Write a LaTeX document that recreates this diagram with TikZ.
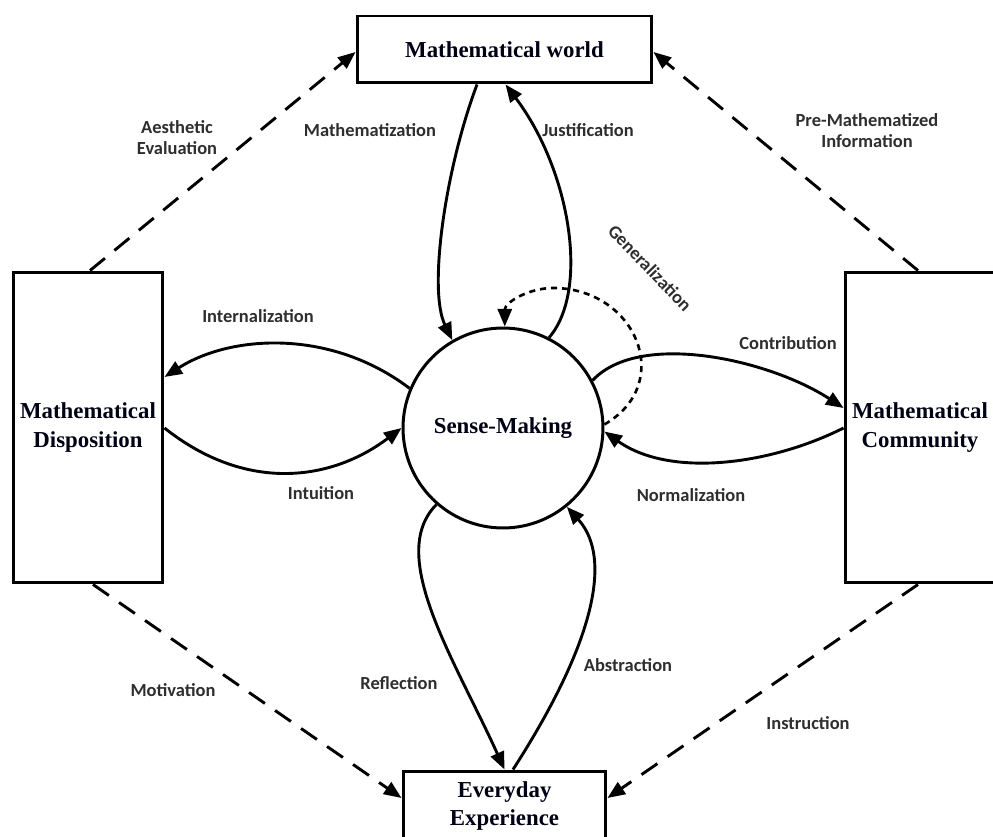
\documentclass[tikz,border=0pt]{standalone}
\usepackage{fontspec}
\setmainfont{Liberation Serif}
\newfontfamily\lblfont{Carlito}
\usetikzlibrary{arrows.meta,calc}
\begin{document}
\begin{tikzpicture}[x=0.02cm,y=-0.02cm,
  box/.style={draw=black,line width=1.7pt,fill=white,inner sep=0pt,
    font=\fontsize{13}{16.5}\selectfont\bfseries,align=center,text=black!92!blue},
  flow/.style={line width=1.65pt,-{Triangle[length=10pt,width=8pt]}},
  link/.style={line width=1.65pt,dash pattern=on 11pt off 7pt,-{Triangle[length=10pt,width=8pt]}},
  gen/.style={line width=1.5pt,dash pattern=on 3.5pt off 2.8pt,-{Triangle[length=10pt,width=8pt]}},
  lbl/.style={font=\lblfont\bfseries\fontsize{10.5}{12}\selectfont,text=black!82,align=center}
]
\clip (0,0) rectangle (993,837);
\fill[white] (0,0) rectangle (993,837);

% main nodes
\node[box,minimum width=5.9cm,minimum height=1.34cm] (mw) at (504.5,49.5) {Mathematical world};
\node[box,minimum width=3cm,minimum height=6.22cm] (ld) at (88,427.5) {Mathematical\\Disposition};
\node[box,minimum width=3cm,minimum height=6.22cm] (rc) at (920,427.5) {Mathematical\\Community};
\node[box,minimum width=4.06cm,minimum height=1.4cm] (eb) at (504.5,806) {Everyday\\Experience};
\node[box,circle,minimum size=4cm] (sm) at (503,428) {Sense-Making};

% connector end points on the boxes
\coordinate (ma) at ($(mw.south)+(-27.5,0)$);
\coordinate (ja) at ($(mw.south)+(1,0)$);
\coordinate (ia) at ($(ld.east)+(0,-50.5)$);
\coordinate (ua) at ($(ld.east)+(0,0.5)$);
\coordinate (ca) at ($(rc.west)+(0,-19.5)$);
\coordinate (na) at ($(rc.west)+(0,0.5)$);
\coordinate (ra) at (eb.north);
\coordinate (aa) at ($(eb.north)+(8.5,0)$);
\coordinate (ae1) at ($(ld.north)+(2,0)$);
\coordinate (ae2) at ($(mw.west)+(0,2.5)$);
\coordinate (pm1) at ($(rc.north)+(-2,0)$);
\coordinate (pm2) at ($(mw.east)+(0,2.5)$);
\coordinate (mo1) at ($(ld.south)+(5,0)$);
\coordinate (mo2) at ($(eb.west)+(0,-8)$);
\coordinate (is1) at ($(rc.south)+(-2,0)$);
\coordinate (is2) at ($(eb.east)+(0,-8)$);
\coordinate (gtop) at (553,288);

% dashed links between the outer boxes
\draw[link] (ae1) -- (ae2);
\draw[link] (pm1) -- (pm2);
\draw[link] (mo1) -- (mo2);
\draw[link] (is1) -- (is2);

% flows to and from sense-making
\draw[flow] (ma) .. controls (445,170) and (428,290) .. (sm.120);
\draw[flow] (sm.63) .. controls (590,290) and (570,170) .. (ja);
\draw[flow] (sm.157) .. controls (330,328) and (230,335) .. (ia);
\draw[flow] (ua) .. controls (245,492) and (330,482) .. (sm.180);
\draw[flow] (sm.28) .. controls (640,330) and (770,360) .. (ca);
\draw[flow] (na) .. controls (770,465) and (670,478) .. (sm.-2);
\draw[flow] (sm.229) .. controls (386,555) and (455,660) .. (ra);
\draw[flow] (aa) .. controls (590,650) and (615,560) .. (sm.309);
\draw[gen] (sm.2) to[out=30,in=0,looseness=1.45] (gtop) to[out=180,in=90] (sm.89);

% labels
\node[lbl] (l-ae) at (177,138) {Aesthetic\\Evaluation};
\node[lbl] (l-pm) at (867,131) {Pre-Mathematized\\Information};
\node[lbl] (l-mz) at (370,130) {Mathematization};
\node[lbl] (l-ju) at (588,130) {Justification};
\node[lbl,rotate=-46] (l-ge) at (650,268) {Generalization};
\node[lbl] (l-in) at (258,316) {Internalization};
\node[lbl] (l-it) at (321,493) {Intuition};
\node[lbl] (l-co) at (788,343) {Contribution};
\node[lbl] (l-no) at (691,495) {Normalization};
\node[lbl] (l-re) at (399,683) {Reflection};
\node[lbl] (l-ab) at (628,665) {Abstraction};
\node[lbl] (l-mo) at (173,690) {Motivation};
\node[lbl] (l-is) at (808,723) {Instruction};
\end{tikzpicture}
\end{document}
